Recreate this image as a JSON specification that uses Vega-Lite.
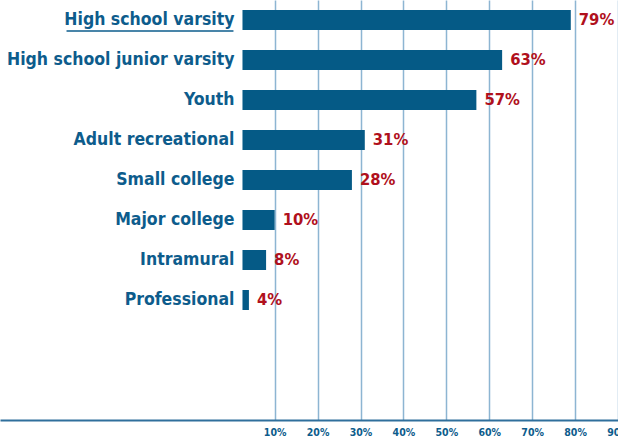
{
  "$schema": "https://vega.github.io/schema/vega-lite/v6.json",
  "width": 618,
  "height": 420,
  "autosize": {"type": "none"},
  "padding": {"left": 0, "top": 0, "right": 0, "bottom": 20},
  "background": "white",
  "config": {"view": {"stroke": null}},
  "data": {
    "values": [
      {"rank": 1, "category": "High school varsity", "value": 0.79},
      {"rank": 2, "category": "High school junior varsity", "value": 0.63},
      {"rank": 3, "category": "Youth", "value": 0.57},
      {"rank": 4, "category": "Adult recreational", "value": 0.31},
      {"rank": 5, "category": "Small college", "value": 0.28},
      {"rank": 6, "category": "Major college", "value": 0.10},
      {"rank": 7, "category": "Intramural", "value": 0.08},
      {"rank": 8, "category": "Professional", "value": 0.04}
    ]
  },
  "encoding": {
    "y": {
      "field": "rank",
      "type": "quantitative",
      "axis": null,
      "scale": {"domain": [0.5, 11], "reverse": true, "nice": false, "zero": false, "padding": 0}
    }
  },
  "layer": [
    {
      "mark": {"type": "bar", "color": "#055a86", "orient": "horizontal", "size": 20},
      "encoding": {
        "x": {
          "field": "value",
          "type": "quantitative",
          "scale": {"domain": [-0.54, 0.9], "nice": false, "zero": false, "padding": 0},
          "axis": {
            "title": null,
            "values": [0.1, 0.2, 0.3, 0.4, 0.5, 0.6, 0.7, 0.8, 0.9],
            "format": ".0%",
            "ticks": false,
            "grid": true,
            "gridColor": "#8db5d2",
            "gridWidth": 1.5,
            "domain": true,
            "domainColor": "#2f6f9c",
            "domainWidth": 2,
            "labelFont": "Liberation Sans Narrow, DejaVu Sans Condensed, sans-serif",
            "labelFontWeight": "bold",
            "labelFontSize": 10.5,
            "labelColor": "#0d5c8c",
            "labelPadding": 7,
            "labelDx": 3,
            "labelFlush": false,
            "labelOverlap": false,
            "labelBound": false
          }
        },
        "x2": {"datum": 0.025}
      }
    },
    {
      "mark": {"type": "text", "align": "left", "baseline": "middle", "dx": 8, "font": "Liberation Sans Narrow, DejaVu Sans Condensed, sans-serif", "fontWeight": "bold", "fontSize": 16.5, "color": "#b0101c"},
      "encoding": {
        "x": {"field": "value", "type": "quantitative"},
        "text": {"field": "value", "type": "quantitative", "format": ".0%"}
      }
    },
    {
      "mark": {"type": "text", "align": "right", "baseline": "middle", "dx": 1, "font": "Liberation Sans Narrow, DejaVu Sans Condensed, sans-serif", "fontWeight": "bold", "fontSize": 17.5, "color": "#0d5c8c"},
      "encoding": {
        "x": {"datum": 0.004},
        "text": {"field": "category", "type": "nominal"}
      }
    },
    {
      "transform": [{"filter": "datum.category === 'High school varsity'"}],
      "mark": {"type": "rule", "color": "#0d5c8c", "strokeWidth": 1.5, "yOffset": 11},
      "encoding": {
        "x": {"datum": -0.385},
        "x2": {"datum": 0.004}
      }
    }
  ]
}
